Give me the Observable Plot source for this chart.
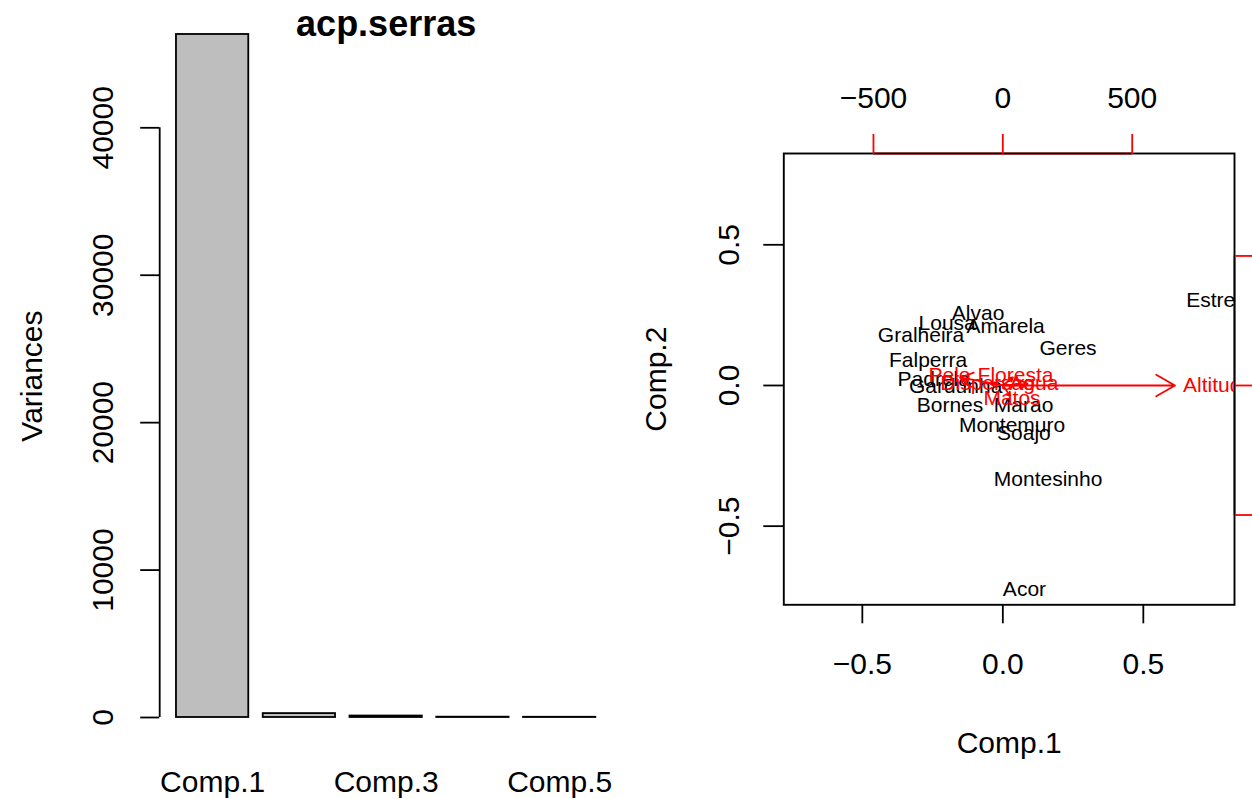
<!DOCTYPE html>
<html><head><meta charset="utf-8">
<script src="https://cdn.jsdelivr.net/npm/d3@7"></script>
<script src="https://cdn.jsdelivr.net/npm/@observablehq/plot@0.6"></script>
<style>
body{margin:0;background:#fff;}
#wrap{position:relative;width:1252px;height:799px;overflow:hidden;display:flex;background:#fff;}
#wrap svg{flex:none;}
</style></head><body><div id="wrap"></div>
<script>
const FONT = "Liberation Sans, Arial, Helvetica, sans-serif";

// ---- scree plot data ----
const components = ["Comp.1","Comp.2","Comp.3","Comp.4","Comp.5"];
const variances = [46330, 265, 100, 22, 15];
const shownNames = ["Comp.1","Comp.3","Comp.5"];
const varTicks = [0, 10000, 20000, 30000, 40000];
const varTickLabels = ["0","10000","20000","30000","40000"];

// ---- biplot data ----
const serras = ["Alvao","Lousa","Amarela","Gralheira","Geres","Falperra","Padrela","Gardunha","Bornes","Marao","Montemuro","Soajo","Montesinho","Acor","Estrela"];
const comp1  = [-0.088,-0.198, 0.010,-0.291, 0.232,-0.266,-0.246,-0.168,-0.188, 0.074, 0.033, 0.075, 0.161, 0.077, 0.769];
const comp2  = [ 0.258, 0.222, 0.211, 0.179, 0.133, 0.090, 0.023,-0.002,-0.070,-0.070,-0.141,-0.169,-0.333,-0.724, 0.302];
const variables = ["Pelo","Floresta","Dispersao","Agua","Matos","Altitude"];
const load1 = [-206, 49, -59, 120, 35.5, 831.6];
const load2 = [ 38.6, 38.6, 7.7, 7.7, -50, 0];
const scoreTicks = [-0.5, 0, 0.5];
const scoreTickLabels = ["\u22120.5","0.0","0.5"];
const loadTicks = [-500, 0, 500];
const loadTickLabels = ["\u2212500","0","500"];
const lim = [-0.7795, 0.8245];
const ratio = 0.4604 / 500;   // loadings units -> score units

const T = {fontFamily: FONT, textAnchor: "middle", lineAnchor: "middle"};

// ---- left: screeplot ----
const space = 0.2, bw = 1;
const bars = components.map((c, i) => ({c, v: variances[i], x1: space + i * (bw + space), x2: (i + 1) * (bw + space)}));
const span = bars[bars.length - 1].x2 - bars[0].x1;
const xlimL = [bars[0].x1 - 0.04 * span, bars[bars.length - 1].x2 + 0.04 * span];
const W = 626, H = 799;
const frameRightL = 612.1;

const left = Plot.plot({
  width: W, height: H,
  marginLeft: 159.2, marginRight: W - frameRightL, marginTop: 127.3, marginBottom: H - 717,
  x: {domain: xlimL, axis: null, label: null},
  y: {domain: [0, 40000], label: null},
  style: {fontFamily: FONT, background: "white", overflow: "visible"},
  marks: [
    Plot.rect(bars, {x1: "x1", x2: "x2", y1: () => 0, y2: "v", fill: "#bebebe", stroke: "black", strokeWidth: 1.8}),
    Plot.ruleX([xlimL[0]], {y1: () => varTicks[0], y2: () => varTicks[varTicks.length - 1], stroke: "black", strokeWidth: 1.8}),
    Plot.axisY({ticks: varTicks, tickSize: 19, tickFormat: () => "", strokeWidth: 1.8, label: null}),
    Plot.text(varTicks, {...T, y: d => d, text: (d, i) => varTickLabels[i], frameAnchor: "left", dx: -56, rotate: -90, fontSize: 30}),
    Plot.text(bars.filter(b => shownNames.includes(b.c)), {...T, x: d => (d.x1 + d.x2) / 2, text: "c", frameAnchor: "bottom", dy: 64.9, fontSize: 30}),
    Plot.text(["Variances"], {...T, text: d => d, frameAnchor: "left", dx: -127, dy: -46.6, rotate: -90, fontSize: 30}),
    Plot.text(["acp.serras"], {...T, text: d => d, frameAnchor: "top", dy: -103.3, fontSize: 36, fontWeight: "bold"})
  ]
});

// ---- right: biplot ----
const scores = serras.map((s, i) => ({s, x: comp1[i], y: comp2[i]}));
const loads = variables.map((v, i) => ({v, x: load1[i] * ratio, y: load2[i] * ratio}));
const loadTickPos = loadTicks.map(v => v * ratio);

const right = Plot.plot({
  width: W, height: H,
  marginLeft: 157.3, marginRight: 18, marginTop: 153, marginBottom: H - 604.3,
  x: {domain: lim, label: null},
  y: {domain: lim, label: null},
  style: {fontFamily: FONT, background: "white", overflow: "visible"},
  marks: [
    Plot.ruleY([lim[1]], {x1: () => loadTickPos[0], x2: () => loadTickPos[2], stroke: "red", strokeWidth: 1.8}),
    Plot.ruleX([lim[1]], {y1: () => loadTickPos[0], y2: () => loadTickPos[2], stroke: "red", strokeWidth: 1.8}),
    Plot.frame({stroke: "black", strokeWidth: 1.9}),
    Plot.axisX({ticks: scoreTicks, tickSize: 19, tickFormat: () => "", strokeWidth: 1.8, label: null}),
    Plot.axisY({ticks: scoreTicks, tickSize: 20, tickFormat: () => "", strokeWidth: 1.8, label: null}),
    Plot.axisX({anchor: "top", ticks: loadTickPos, tickSize: 20, tickFormat: () => "", stroke: "red", strokeWidth: 1.8, label: null}),
    Plot.axisY({anchor: "right", ticks: loadTickPos, tickSize: 20, tickFormat: () => "", stroke: "red", strokeWidth: 1.8, label: null}),
    Plot.text(scoreTicks, {...T, x: d => d, text: (d, i) => scoreTickLabels[i], frameAnchor: "bottom", dy: 59.4, fontSize: 30}),
    Plot.text(scoreTicks, {...T, y: d => d, text: (d, i) => scoreTickLabels[i], frameAnchor: "left", dx: -54.5, rotate: -90, fontSize: 30}),
    Plot.text(loadTicks, {...T, x: d => d * ratio, text: (d, i) => loadTickLabels[i], frameAnchor: "top", dy: -55, fontSize: 30}),
    Plot.text(["Comp.1"], {...T, text: d => d, frameAnchor: "bottom", dy: 139, fontSize: 30}),
    Plot.text(["Comp.2"], {...T, text: d => d, frameAnchor: "left", dx: -127, rotate: -90, fontSize: 30}),
    Plot.text(scores, {...T, x: "x", y: "y", text: "s", fontSize: 21, fill: "black", clip: true}),
    Plot.arrow(loads, {x1: () => 0, y1: () => 0, x2: d => 0.8 * d.x, y2: d => 0.8 * d.y, stroke: "red", strokeWidth: 1.8, headLength: 18, headAngle: 60}),
    Plot.text(loads, {...T, x: "x", y: "y", text: "v", fontSize: 21, fill: "red", clip: true})
  ]
});

const wrap = document.getElementById("wrap");
wrap.appendChild(left);
wrap.appendChild(right);
</script>
</body></html>
